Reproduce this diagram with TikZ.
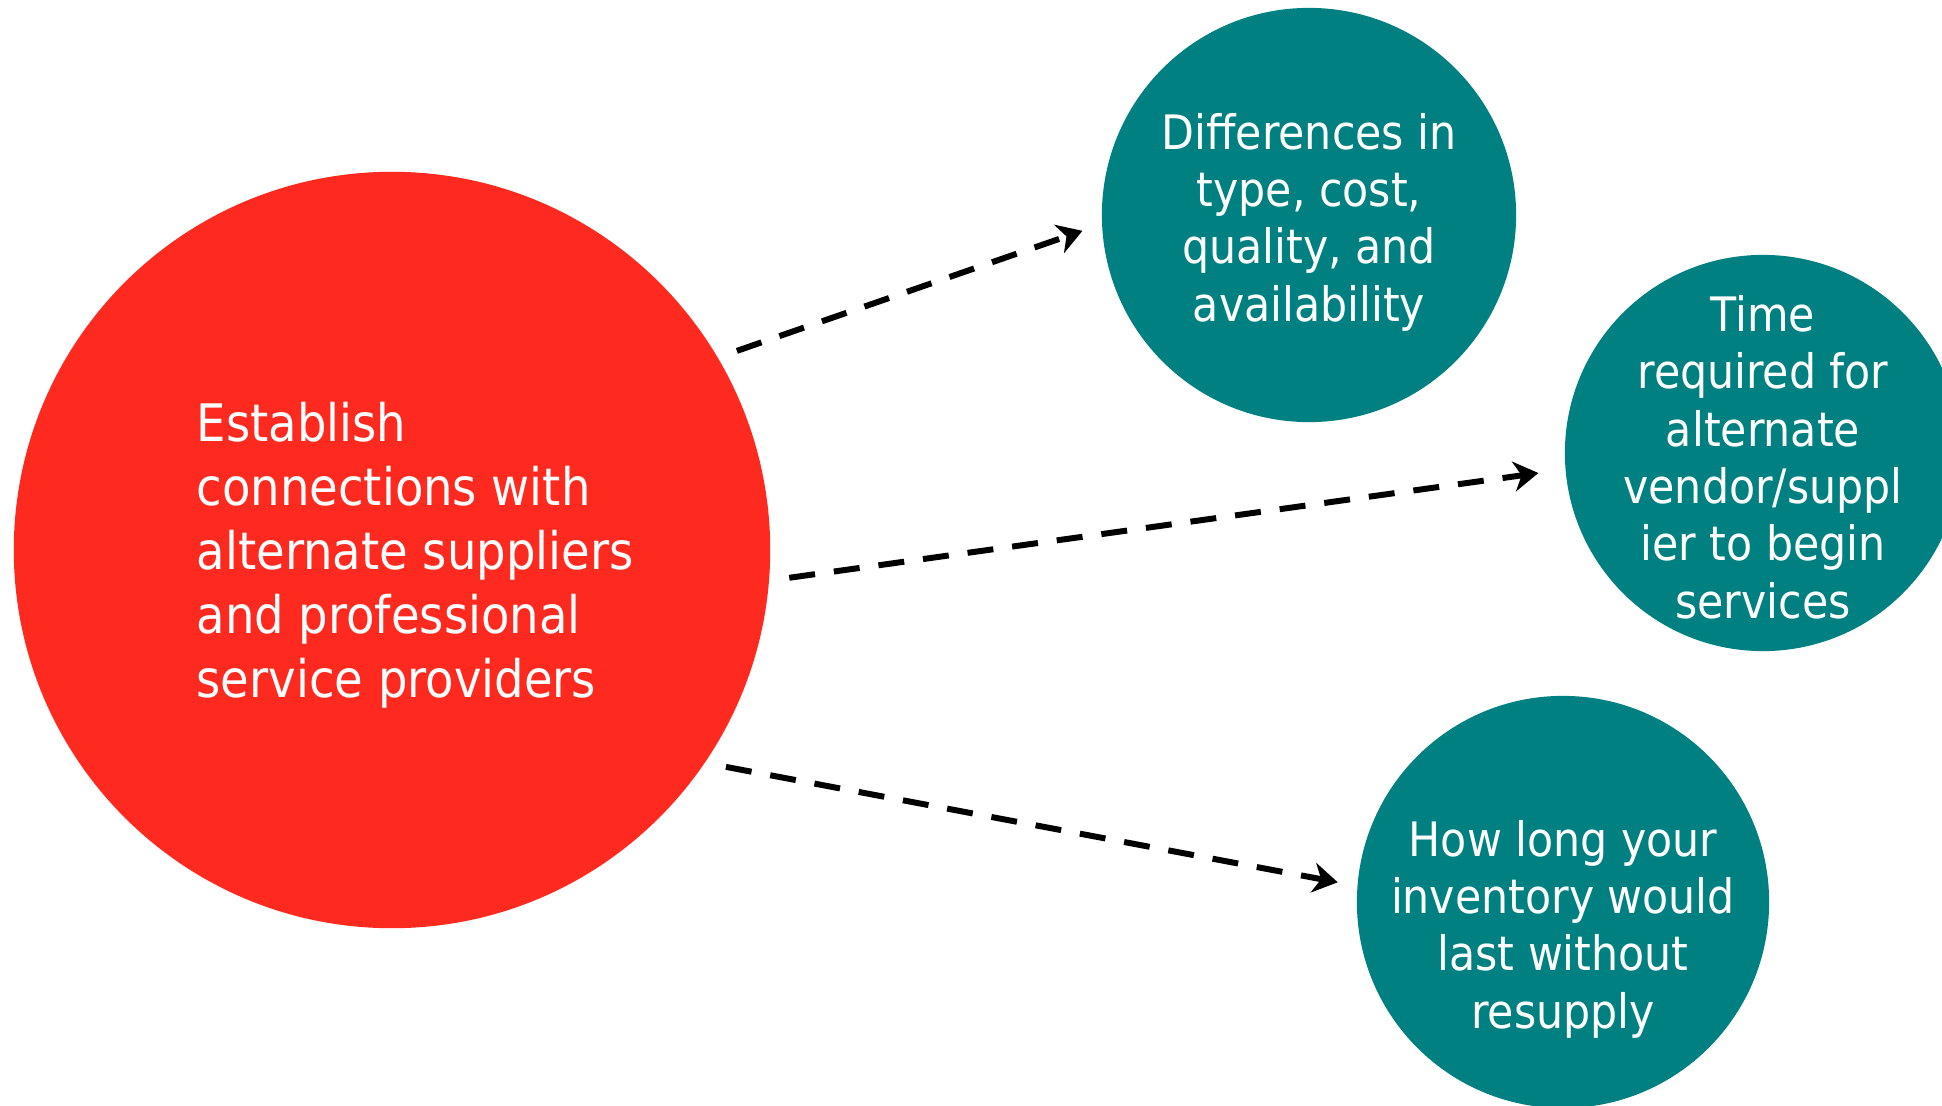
\documentclass[tikz,border=0pt]{standalone}
\usepackage{fontspec}
\setmainfont{DejaVu Sans Condensed}
\usepackage{tikz}
\usetikzlibrary{arrows.meta}
\definecolor{mainred}{RGB}{254,42,32}
\definecolor{tealfill}{RGB}{0,128,128}

\begin{document}
\begin{tikzpicture}[x=0.01cm,y=-0.01cm,
    main/.style={circle,fill=mainred,minimum size=7.56cm,inner sep=0pt,outer sep=0.2cm},
    factor/.style={circle,fill=tealfill,inner sep=0pt,outer sep=0.2cm},
    label/.style={text=white,inner sep=0pt,align=center,font=\fontsize{13.5}{16.3}\selectfont},
    flow/.style={-{Stealth[length=7pt,width=8.5pt,inset=2.2pt]},line width=1.7pt,dash pattern=on 7.4pt off 5.4pt}]
		\useasboundingbox (0,0) rectangle (1942,1106);
		% circles
		\node[main] (M) at (392,550) {};
		\node[factor,minimum size=4.14cm] (D) at (1309,215) {};
		\node[factor,minimum size=3.96cm] (T) at (1763,453) {};
		\node[factor,minimum size=4.12cm] (H) at (1563,902) {};
		% texts
		\node[label,anchor=west,align=left,font=\fontsize{14.7}{18.2}\selectfont] (Mtext) at (196,555)
		{Establish\\connections with\\alternate suppliers\\and professional\\service providers};
		\node[label] (Dtext) at (1309,222) {Differences in\\type, cost,\\quality, and\\availability};
		\node[label] (Ttext) at (1763,457) {Time\\required for\\alternate\\vendor/suppl\\ier to begin\\services};
		\node[label] (Htext) at (1563,929) {How long your\\inventory would\\last without\\resupply};
		% arrows
		\path[flow]
		(M.30) edge (D.184)
		(M.-4.4) edge[shorten >=2.1pt] (T.185)
		(M.-33) edge (H.175)
		;
	\end{tikzpicture}
\end{document}
